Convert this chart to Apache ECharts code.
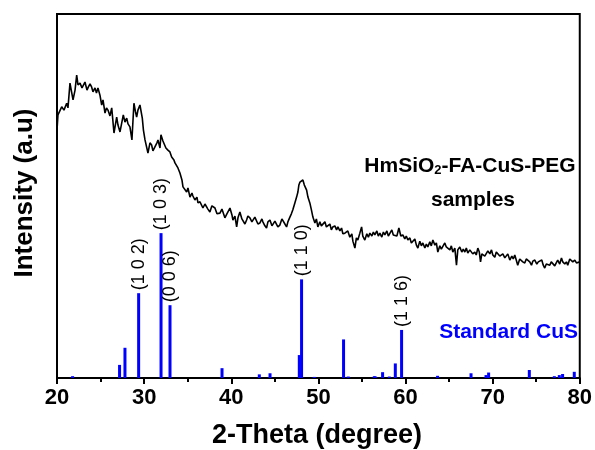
<!DOCTYPE html>
<html><head><meta charset="utf-8">
<script src="https://cdn.jsdelivr.net/npm/echarts@6/dist/echarts.min.js"></script>
<style>html,body{margin:0;padding:0;background:#fff}#c{width:595px;height:450px}</style>
</head><body><div id="c"></div>
<script>
// Sample XRD pattern (2-theta, intensity a.u.)
var curveX = [20.0,20.11,20.54,20.80,21.11,21.26,21.49,21.84,22.07,22.26,22.41,22.64,22.87,23.21,23.44,23.59,23.79,23.98,24.13,24.36,24.53,24.70,24.93,25.13,25.28,25.51,25.68,25.85,26.08,26.28,26.54,26.85,27.00,27.23,27.61,27.80,28.00,28.15,28.37,28.60,28.83,29.01,29.14,29.29,29.52,29.79,29.92,30.10,30.44,30.67,30.86,31.01,31.24,31.47,31.59,31.82,31.93,32.16,32.28,32.50,32.73,32.96,33.16,33.42,33.54,33.88,34.11,34.34,34.46,34.68,34.88,35.03,35.26,35.49,35.60,35.83,36.06,36.18,36.41,36.75,36.98,37.17,37.32,37.55,37.78,38.13,38.36,38.70,38.93,39.27,39.50,39.85,40.08,40.19,40.42,40.62,40.77,40.99,41.22,41.34,41.57,41.76,41.91,42.14,42.37,42.49,42.71,42.91,43.06,43.29,43.52,43.63,43.86,44.05,44.21,44.44,44.67,44.78,45.01,45.21,45.35,45.58,45.81,45.93,46.16,46.35,46.50,46.73,46.90,47.07,47.30,47.50,47.65,47.76,47.88,48.05,48.22,48.39,48.65,48.80,49.02,49.20,49.37,49.60,49.77,49.94,50.17,50.34,50.52,50.75,50.92,51.09,51.32,51.49,51.66,51.89,52.09,52.24,52.47,52.66,52.81,53.04,53.23,53.38,53.61,53.84,53.96,54.19,54.36,54.53,54.76,54.96,55.10,55.33,55.56,55.74,55.91,56.14,56.31,56.48,56.71,56.88,57.06,57.28,57.46,57.63,57.86,58.03,58.20,58.43,58.60,58.78,59.01,59.24,59.46,59.69,59.92,60.09,60.27,60.50,60.67,60.84,61.07,61.25,61.42,61.64,61.82,61.99,62.22,62.39,62.56,62.79,62.96,63.14,63.37,63.54,63.71,63.94,64.11,64.28,64.51,64.68,64.86,65.09,65.26,65.43,65.66,65.85,66.00,66.23,66.46,66.63,66.81,66.98,67.15,67.38,67.58,67.72,67.95,68.12,68.30,68.47,68.61,68.76,68.87,69.10,69.30,69.45,69.68,69.87,70.02,70.25,70.42,70.59,70.82,71.02,71.17,71.40,71.59,71.74,71.97,72.20,72.37,72.54,72.71,72.88,73.11,73.31,73.46,73.69,73.86,74.03,74.26,74.46,74.61,74.84,75.07,75.24,75.41,75.64,75.81,75.98,76.16,76.33,76.56,76.73,76.90,77.13,77.30,77.47,77.70,77.90,78.05,78.28,78.47,78.62,78.85,79.05,79.20,79.43,79.62,79.77,80.00];
var curveY = [68.1,72.3,74.5,73.6,75.5,74.2,81.0,76.4,79.1,83.2,80.5,81.0,79.7,81.3,79.1,79.9,80.8,79.9,78.6,79.7,78.3,79.7,77.7,75.0,76.4,72.8,74.2,73.6,72.0,74.2,67.3,71.7,69.5,67.6,72.3,70.3,71.4,69.8,69.0,65.4,75.5,73.1,71.7,73.6,75.0,71.4,68.1,65.4,61.8,64.6,64.0,62.4,63.5,64.6,65.4,63.2,66.8,65.1,64.6,63.2,62.6,62.1,60.7,59.9,59.1,57.7,56.3,54.4,52.5,53.0,51.1,52.2,49.7,50.8,50.0,48.9,49.7,48.1,48.4,46.7,47.8,47.5,46.4,45.6,47.3,46.7,45.1,45.3,46.4,44.0,45.1,46.7,44.8,43.4,44.5,41.5,44.0,45.6,43.7,44.2,42.3,43.4,44.5,44.0,42.9,42.6,44.2,44.0,42.3,42.6,43.7,42.9,41.8,41.2,42.9,43.4,41.8,42.0,43.1,42.6,41.5,42.0,43.7,43.4,42.3,41.5,42.9,44.2,45.1,46.2,48.1,49.7,51.1,53.0,53.8,53.3,54.4,53.0,51.6,49.7,48.1,46.2,44.2,42.6,43.7,41.5,42.9,41.8,42.0,42.9,41.5,41.2,42.3,40.7,41.5,41.8,40.7,41.5,40.4,41.2,39.6,39.8,39.3,40.4,38.7,39.6,37.6,35.7,38.5,37.9,39.8,41.5,39.0,37.9,39.6,38.7,39.8,39.0,40.1,39.3,40.4,39.0,39.8,38.7,40.1,39.3,40.4,39.0,39.3,40.7,39.3,39.8,39.0,41.2,39.0,39.3,38.2,39.0,37.9,38.5,37.1,37.4,38.2,36.5,35.7,37.6,36.3,37.1,35.7,36.8,36.0,37.4,36.3,37.9,36.5,37.1,34.6,36.3,35.4,35.7,37.1,36.0,36.5,35.2,36.3,34.6,35.7,31.0,35.2,36.0,34.6,35.4,34.6,35.7,34.3,35.2,35.2,34.1,34.6,33.8,35.7,34.6,31.9,34.1,34.6,33.5,33.8,34.9,34.1,35.2,33.8,33.2,34.6,34.3,33.5,33.0,34.1,33.0,33.2,34.1,32.4,33.5,32.7,33.8,32.4,31.0,32.7,33.0,31.9,31.6,32.7,33.0,31.9,31.0,32.1,32.4,31.3,31.9,31.6,32.4,31.0,30.2,31.3,31.6,31.0,31.9,31.9,30.8,31.6,32.4,31.3,33.0,31.9,31.3,31.9,31.0,32.7,33.0,31.9,32.4,31.6,32.1,31.9];
// Standard CuS reference lines
var stdPos = [21.79,27.18,27.80,29.37,31.94,32.97,38.94,43.22,44.45,47.81,48.07,49.53,52.89,53.43,56.42,56.55,57.37,58.14,58.83,59.55,63.68,67.52,69.24,69.54,74.21,77.08,77.65,78.03,79.37];
var stdInt = [0.5,3.6,8.3,23.3,39.8,20.0,2.7,1.0,1.3,6.3,27.1,0.3,10.6,0.4,0.5,0.4,1.6,0.4,4.0,13.2,0.6,1.3,0.8,1.5,2.2,0.5,0.8,1.1,1.7];
var stdLabels = ['','','','(1 0 2)','(1 0 3)','(0 0 6)','','','','','(1 1 0)','','','','','','','','','(1 1 6)','','','','','','','','',''];
var xTicks = [20,30,40,50,60,70,80];

var curveData = curveX.map(function(x,i){return [x, curveY[i]];});
var stdData = stdPos.map(function(x,i){
  var d = {value:[x, stdInt[i]]};
  if (stdLabels[i]) d.label = {show:true, formatter: stdLabels[i]};
  return d;
});

var chart = echarts.init(document.getElementById('c'), null, {renderer:'canvas'});
var F = '"Liberation Sans", Arial, sans-serif';
chart.setOption({
  animation:false,
  backgroundColor:'#fff',
  grid:{left:57, right:15, top:14, bottom:72, show:true, borderColor:'#000', borderWidth:2},
  xAxis:{type:'value', min:xTicks[0], max:xTicks[xTicks.length-1], interval:10,
    axisLine:{show:true, lineStyle:{color:'#000', width:2}},
    axisTick:{show:true, inside:false, length:6, lineStyle:{color:'#000', width:2}},
    minorTick:{show:true, splitNumber:2, length:4, lineStyle:{color:'#000', width:2}},
    splitLine:{show:false},
    axisLabel:{color:'#000', fontFamily:F, fontWeight:'bold', fontSize:22, margin:9}},
  yAxis:{type:'value', min:0, max:100,
    axisLine:{show:true, lineStyle:{color:'#000', width:2}},
    axisTick:{show:false}, axisLabel:{show:false}, splitLine:{show:false}},
  series:[
    {type:'line', data:curveData, showSymbol:false, symbol:'none',
      lineStyle:{color:'#000', width:1.6}, z:3},
    {type:'bar', data:stdData, barWidth:3, itemStyle:{color:'#0000FF'},
      label:{show:false, position:'top', rotate:90, align:'left', verticalAlign:'middle', distance:3,
        color:'#000', fontFamily:F, fontSize:18}, z:2}
  ],
  graphic:[
    {type:'text', x:470, y:166, style:{
      text:'{a|HmSiO}{b|2}{a|-FA-CuS-PEG}', textAlign:'center', textVerticalAlign:'middle',
      rich:{a:{fontFamily:F, fontWeight:'bold', fontSize:21, fill:'#000', lineHeight:22},
            b:{fontFamily:F, fontWeight:'bold', fontSize:13, fill:'#000', verticalAlign:'bottom', lineHeight:14, padding:[11,0,0,0]}}}},
    {type:'text', x:473, y:200, style:{text:'samples', textAlign:'center', textVerticalAlign:'middle',
      font:'bold 21px "Liberation Sans", Arial, sans-serif', fill:'#000'}},
    {type:'text', x:578, y:332, style:{text:'Standard CuS', textAlign:'right', textVerticalAlign:'middle',
      font:'bold 21px "Liberation Sans", Arial, sans-serif', fill:'#0000FF'}},
    {type:'text', x:317, y:436, style:{text:'2-Theta (degree)', textAlign:'center', textVerticalAlign:'middle',
      font:'bold 27px "Liberation Sans", Arial, sans-serif', fill:'#000'}},
    {type:'text', x:25, y:193, rotation:Math.PI/2, style:{text:'Intensity (a.u)', textAlign:'center', textVerticalAlign:'middle',
      font:'bold 26px "Liberation Sans", Arial, sans-serif', fill:'#000'}}
  ]
});
</script></body></html>
